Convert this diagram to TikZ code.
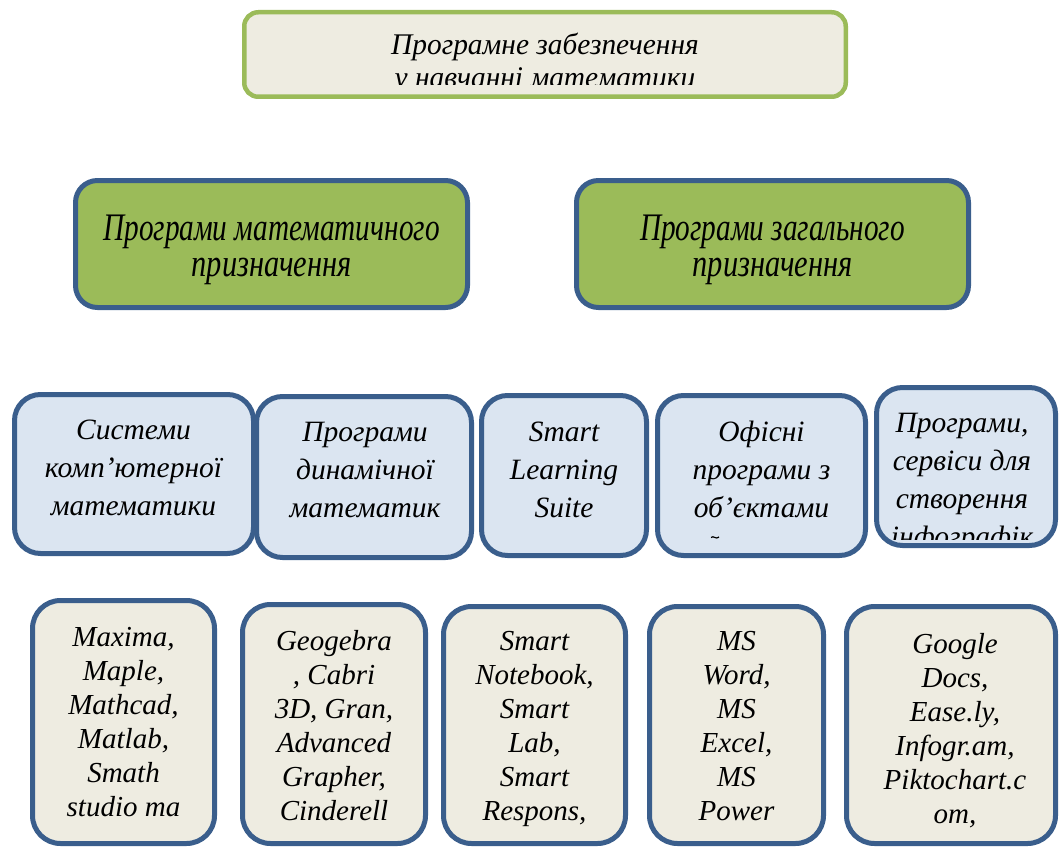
\documentclass[tikz,border=0pt]{standalone}
\usepackage{fontspec}
\setmainfont{Liberation Serif}[ItalicFont={Liberation Serif Italic}]
\definecolor{ggreen}{HTML}{9BBB59}
\definecolor{dblue}{HTML}{3A5E8C}
\definecolor{lblue}{HTML}{DBE5F1}
\definecolor{cream}{HTML}{EEECE1}
\newcommand\sqz[2]{\scalebox{#1}[1]{#2}}
\newcommand\fl[1]{\rule{0pt}{#1pt}}
\tikzset{
  topbox/.style={draw=ggreen, line width=4.5pt, fill=cream, rounded corners=14pt, inner sep=0pt},
  catbox/.style={draw=dblue, line width=5pt, fill=ggreen, rounded corners=22pt, inner sep=0pt},
  subbox/.style={draw=dblue, line width=5pt, fill=lblue, rounded corners=26pt, inner sep=0pt},
  itembox/.style={draw=dblue, line width=5pt, fill=cream, rounded corners=28pt, inner sep=0pt},
  lbl/.style={inner sep=0pt, outer sep=0pt, align=center, anchor=north, text=black},
  sublbl/.style={lbl, font=\itshape\fontsize{29.5}{38}\selectfont},
  itemlbl/.style={lbl, font=\itshape\fontsize{29}{34}\selectfont},
  catlbl/.style={lbl, font=\itshape\fontsize{39}{36}\selectfont},
  toplbl/.style={lbl, font=\itshape\fontsize{30}{33}\selectfont},
}
\begin{document}
\begin{tikzpicture}[x=1pt,y=-1pt]
\useasboundingbox (0,0) rectangle (1060,848);
% top
\node[topbox, minimum width=601.5, minimum height=84.5] (top) at (545,54.5) {};
\begin{scope}
\clip (242,10) rectangle (848,85);
\node[toplbl] (topt) at (545,{55-28}) {\fl{28}\sqz{0.98}{Програмне забезпечення}\\ \sqz{0.98}{у навчанні математики}};
\end{scope}
% categories
\node[catbox, minimum width=392, minimum height=127] (catL) at (271.5,244) {};
\node[catlbl] (catLt) at (271.5,{240-34}) {\fl{34}\sqz{0.75}{Програми математичного}\\ \sqz{0.78}{призначення}};
\node[catbox, minimum width=392, minimum height=127] (catR) at (772.5,244) {};
\node[catlbl] (catRt) at (772.5,{240-34}) {\fl{34}\sqz{0.75}{Програми загального}\\ \sqz{0.78}{призначення}};
% row 3
\node[subbox, minimum width=239, minimum height=159] (s1) at (134,474) {};
\node[subbox, minimum width=215, minimum height=161] (s2) at (364,477) {};
\node[subbox, minimum width=165, minimum height=160] (s3) at (564,475.5) {};
\node[subbox, minimum width=208, minimum height=160] (s4) at (761.5,475.5) {};
\node[subbox, minimum width=179, minimum height=158] (s5) at (966,466.5) {};
\node[sublbl] (s1t) at (133.5,{439-28}) {\fl{28}Системи\\комп’ютерної\\математики};
\node[sublbl] (s2t) at (365,{441-28}) {\fl{28}Програми\\динамічної\\математик};
\node[sublbl] (s3t) at (564,{441-28}) {\fl{28}Smart\\Learning\\Suite};
\node[sublbl] (s4t) at (761.5,{441-28}) {\fl{28}Офісні\\програми з\\об’єктами};
\draw[line width=1.2pt] (711,537.5) .. controls (713.5,535) and (716,540) .. (719,537);
\begin{scope}
\clip (874,385) rectangle (1058,539);
\node[sublbl] (s5t) at (962,{432-28}) {\fl{28}Програми,\\сервіси для\\створення\\інфографік};
\end{scope}
% row 4
\node[itembox, minimum width=182, minimum height=243] (i1) at (123.5,722) {};
\node[itembox, minimum width=183, minimum height=239] (i2) at (334,724) {};
\node[itembox, minimum width=182, minimum height=237] (i3) at (534.5,725) {};
\node[itembox, minimum width=174, minimum height=237] (i4) at (736.5,725) {};
\node[itembox, minimum width=209, minimum height=237] (i5) at (951,725) {};
\node[itemlbl] (i1t) at (123.5,{646-28}) {\fl{28}Maxima,\\Maple,\\Mathcad,\\Matlab,\\Smath\\studio ma};
\node[itemlbl] (i2t) at (334,{650-28}) {\fl{28}Geogebra\\, Cabri\\3D, Gran,\\Advanced\\Grapher,\\Cinderell};
\node[itemlbl] (i3t) at (534.5,{650-28}) {\fl{28}Smart\\Notebook,\\Smart\\Lab,\\Smart\\Respons,};
\node[itemlbl] (i4t) at (736.5,{650-28}) {\fl{28}MS\\Word,\\MS\\Excel,\\MS\\Power};
\node[itemlbl] (i5t) at (955,{653-28}) {\fl{28}Google\\Docs,\\Ease.ly,\\Infogr.am,\\Piktochart.c\\om,};
\end{tikzpicture}
\end{document}
